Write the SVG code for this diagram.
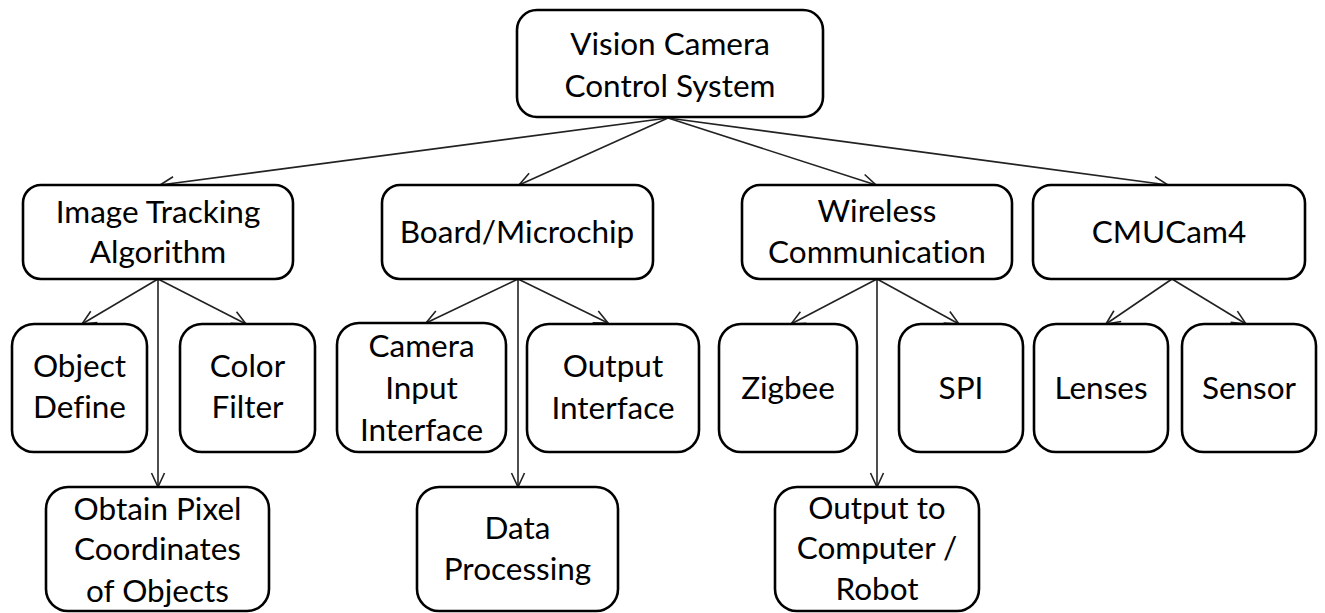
<svg xmlns="http://www.w3.org/2000/svg" width="1325" height="613" viewBox="0 0 1325 613">
  <style>
    .box { fill: #ffffff; stroke: #000000; stroke-width: 2.6; }
    .lbl { font-family: "Lato", "Liberation Sans", sans-serif; font-size: 31.5px; fill: #000000; text-anchor: middle; font-variant-ligatures: none; }
    .edge { fill: none; stroke: #222222; stroke-width: 1.6; marker-end: url(#arrow); }
  </style>
  <defs>
    <marker id="arrow" viewBox="0 0 16 16" refX="15" refY="8" markerWidth="16" markerHeight="16" markerUnits="userSpaceOnUse" orient="auto">
      <path d="M1,1.5 L15,8 L1,14.5" fill="none" stroke="#222222" stroke-width="1.6"/>
    </marker>
  </defs>
  <rect width="1325" height="613" fill="#ffffff"/>

  <!-- connectors -->
  <g id="connectors">
    <line class="edge" x1="668" y1="118" x2="160" y2="185"/>
    <line class="edge" x1="668" y1="118" x2="519" y2="185"/>
    <line class="edge" x1="668" y1="118" x2="876" y2="185"/>
    <line class="edge" x1="668" y1="118" x2="1168" y2="185"/>

    <line class="edge" x1="158" y1="279" x2="82" y2="324"/>
    <line class="edge" x1="158" y1="279" x2="246" y2="324"/>
    <line class="edge" x1="158" y1="279" x2="158" y2="487"/>

    <line class="edge" x1="518" y1="279" x2="426" y2="323"/>
    <line class="edge" x1="518" y1="279" x2="608" y2="323"/>
    <line class="edge" x1="518" y1="279" x2="518" y2="487"/>

    <line class="edge" x1="877" y1="279" x2="791" y2="324"/>
    <line class="edge" x1="877" y1="279" x2="959" y2="324"/>
    <line class="edge" x1="877" y1="279" x2="877" y2="487"/>

    <line class="edge" x1="1172" y1="279" x2="1106" y2="324"/>
    <line class="edge" x1="1172" y1="279" x2="1246" y2="324"/>
  </g>

  <!-- root -->
  <g id="vision-camera-control-system">
    <rect class="box" x="517" y="10" width="306" height="107" rx="20"/>
    <text class="lbl" x="670" y="55">Vision Camera</text>
    <text class="lbl" x="670" y="97">Control System</text>
  </g>

  <!-- second level -->
  <g id="image-tracking-algorithm">
    <rect class="box" x="23" y="185" width="270" height="94" rx="18"/>
    <text class="lbl" x="158" y="223">Image Tracking</text>
    <text class="lbl" x="158" y="263">Algorithm</text>
  </g>
  <g id="board-microchip">
    <rect class="box" x="382" y="185" width="271" height="94" rx="18"/>
    <text class="lbl" x="517" y="243">Board/Microchip</text>
  </g>
  <g id="wireless-communication">
    <rect class="box" x="742" y="185" width="270" height="94" rx="18"/>
    <text class="lbl" x="877" y="222">Wireless</text>
    <text class="lbl" x="877" y="263">Communication</text>
  </g>
  <g id="cmucam4">
    <rect class="box" x="1033" y="185" width="272" height="94" rx="18"/>
    <text class="lbl" x="1169" y="243">CMUCam4</text>
  </g>

  <!-- third level -->
  <g id="object-define">
    <rect class="box" x="12" y="324" width="135" height="128" rx="22"/>
    <text class="lbl" x="79.5" y="377">Object</text>
    <text class="lbl" x="79.5" y="418">Define</text>
  </g>
  <g id="color-filter">
    <rect class="box" x="180" y="324" width="135" height="128" rx="22"/>
    <text class="lbl" x="247.5" y="377">Color</text>
    <text class="lbl" x="247.5" y="418">Filter</text>
  </g>
  <g id="camera-input-interface">
    <rect class="box" x="337" y="323" width="169" height="129" rx="22"/>
    <text class="lbl" x="421.5" y="357">Camera</text>
    <text class="lbl" x="421.5" y="399">Input</text>
    <text class="lbl" x="421.5" y="441">Interface</text>
  </g>
  <g id="output-interface">
    <rect class="box" x="527" y="324" width="172" height="128" rx="22"/>
    <text class="lbl" x="613" y="377">Output</text>
    <text class="lbl" x="613" y="419">Interface</text>
  </g>
  <g id="zigbee">
    <rect class="box" x="719" y="324" width="138" height="128" rx="22"/>
    <text class="lbl" x="788" y="399">Zigbee</text>
  </g>
  <g id="spi">
    <rect class="box" x="899" y="324" width="124" height="128" rx="22"/>
    <text class="lbl" x="961" y="399">SPI</text>
  </g>
  <g id="lenses">
    <rect class="box" x="1034" y="324" width="134" height="128" rx="22"/>
    <text class="lbl" x="1101" y="399">Lenses</text>
  </g>
  <g id="sensor">
    <rect class="box" x="1182" y="324" width="134" height="128" rx="22"/>
    <text class="lbl" x="1249" y="399">Sensor</text>
  </g>

  <!-- fourth level -->
  <g id="obtain-pixel-coordinates">
    <rect class="box" x="46" y="487" width="223" height="124" rx="22"/>
    <text class="lbl" x="157.5" y="520">Obtain Pixel</text>
    <text class="lbl" x="157.5" y="560">Coordinates</text>
    <text class="lbl" x="157.5" y="602">of Objects</text>
  </g>
  <g id="data-processing">
    <rect class="box" x="417" y="487" width="201" height="124" rx="22"/>
    <text class="lbl" x="517.5" y="539">Data</text>
    <text class="lbl" x="517.5" y="580">Processing</text>
  </g>
  <g id="output-to-computer-robot">
    <rect class="box" x="775" y="487" width="204" height="124" rx="22"/>
    <text class="lbl" x="877" y="519">Output to</text>
    <text class="lbl" x="877" y="559">Computer /</text>
    <text class="lbl" x="877" y="600">Robot</text>
  </g>
</svg>
